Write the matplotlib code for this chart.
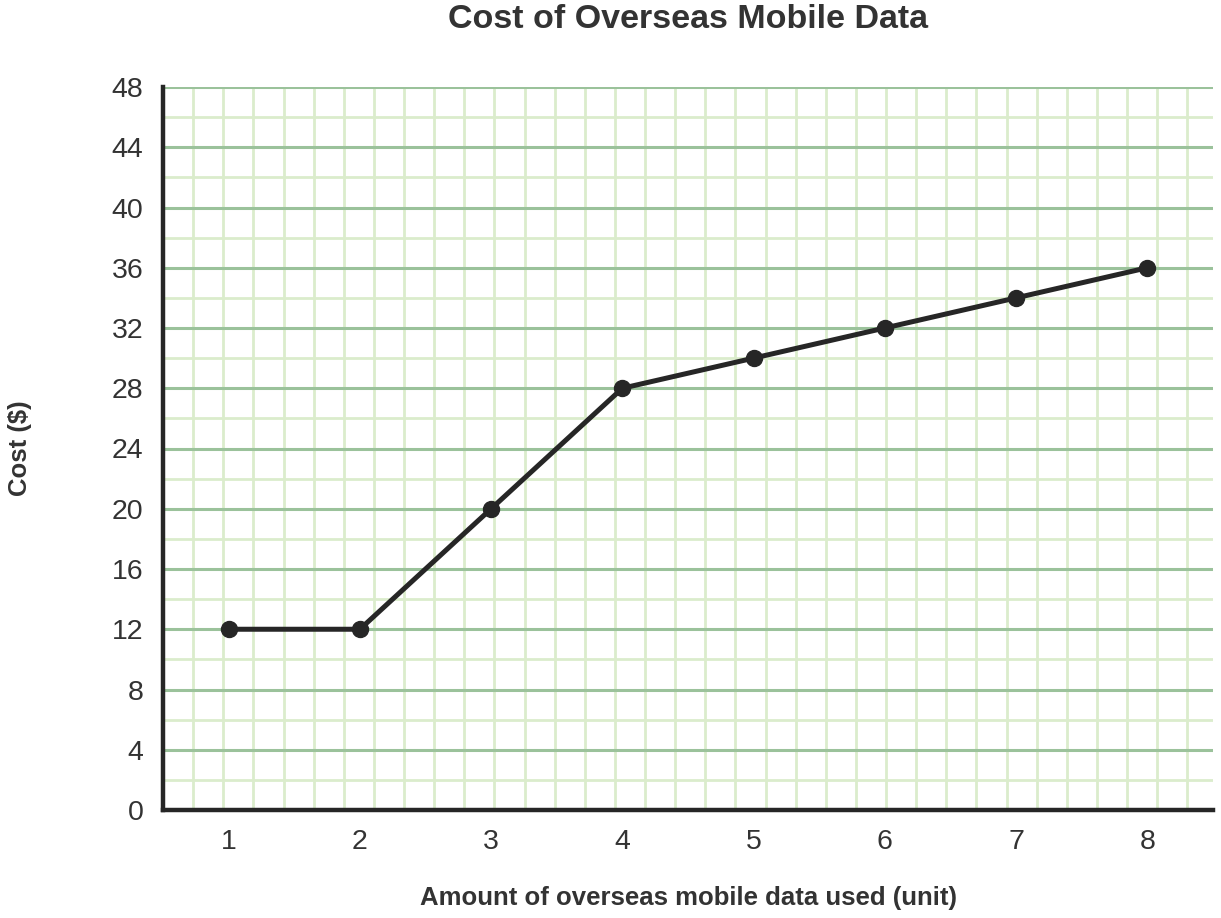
import numpy as np
import matplotlib
matplotlib.use("Agg")
import matplotlib.pyplot as plt

x_units = [1, 2, 3, 4, 5, 6, 7, 8]
cost = [12, 12, 20, 28, 30, 32, 34, 36]
y_ticks = [0, 4, 8, 12, 16, 20, 24, 28, 32, 36, 40, 44, 48]

plt.rcParams['font.family'] = ['Liberation Sans', 'DejaVu Sans']

W, H = 1221, 918
fig = plt.figure(figsize=(W / 100, H / 100), dpi=100)
l, r, b, t = 163 / W, 1213 / W, (H - 810) / H, (H - 87) / H
ax = fig.add_axes([l, b, r - l, t - b])

xmin, xmax = 0.5, 8.5
ymin, ymax = 0, 48
ax.set_xlim(xmin, xmax)
ax.set_ylim(ymin, ymax)

minor_c = '#dbeccc'
major_c = '#9bc29b'

# square background grid: minor y every 2 units, vertical lines with the same pixel spacing
ax_w_px = (r - l) * W
ax_h_px = (t - b) * H
px_per_y = ax_h_px / (ymax - ymin)
px_per_x = ax_w_px / (xmax - xmin)
dx = 2 * px_per_y / px_per_x
xs = xmin + dx * np.arange(1, int((xmax - xmin) / dx) + 1)
xs = xs[xs < xmax - 1e-6]
ax.vlines(xs, ymin, ymax, colors=minor_c, linewidth=2.0, zorder=1)
for yv in np.arange(2, 48, 4):
    ax.axhline(yv, color=minor_c, linewidth=2.0, zorder=1)
for yv in y_ticks[1:]:
    ax.axhline(yv, color=major_c, linewidth=2.2, zorder=1.5)

ax.plot(x_units, cost, color='#262626', linewidth=3.6, marker='o',
        markersize=11.5, zorder=5, clip_on=False)

for s in ['top', 'right']:
    ax.spines[s].set_visible(False)
for s in ['left', 'bottom']:
    ax.spines[s].set_linewidth(3.2)
    ax.spines[s].set_color('#262626')
    ax.spines[s].set_zorder(6)

ax.set_xticks(x_units)
ax.set_yticks(y_ticks)
ax.tick_params(axis='both', length=0, labelsize=20.5, colors='#333333')
ax.tick_params(axis='y', pad=14)
ax.tick_params(axis='x', pad=14)

fig.text((l + r) / 2, 1 - 898 / H, 'Amount of overseas mobile data used (unit)',
         ha='center', va='center', fontsize=18.5, fontweight='bold', color='#333333')
fig.text(20 / W, b + (t - b) / 2, 'Cost ($)', rotation=90, ha='center', va='center',
         fontsize=18.5, fontweight='bold', color='#333333')

fig.text((l + r) / 2, 1 - 20 / H, 'Cost of Overseas Mobile Data', ha='center',
         va='center', fontsize=24.5, fontweight='bold', color='#333333')

fig.savefig('out.png', dpi=100)
